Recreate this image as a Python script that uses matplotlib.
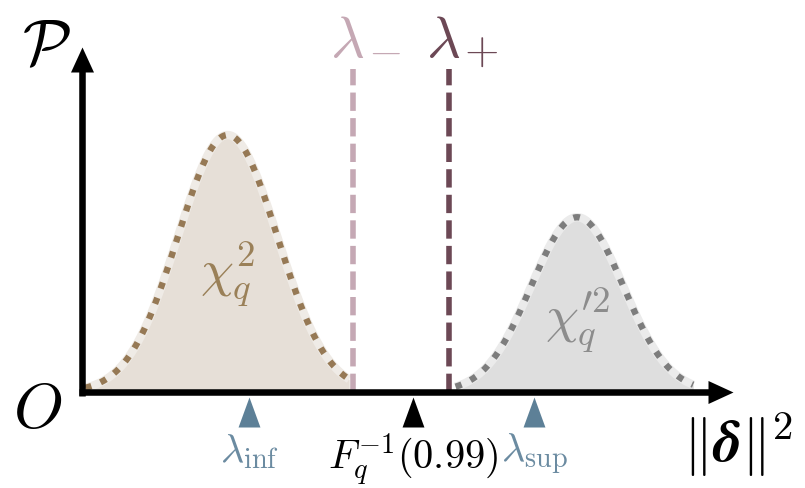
import numpy as np
import matplotlib
matplotlib.use("Agg")
import matplotlib.pyplot as plt

plt.rcParams["mathtext.fontset"] = "cm"

# Two bell-shaped densities: null (chi^2) and alternative (non-central chi'^2)
dist_labels = [r"$\chi^2_q$", r"$\chi^{\prime 2}_q$"]
dist_centers = [1.82, 6.19]
dist_scales = [0.62, 0.575]
dist_peaks = [1.0, 0.68]
dist_support = [(0.04, 3.34), (4.67, 7.64)]
dist_label_pos = [(1.82, 0.415), (6.2, 0.237)]

# Decision thresholds drawn as dashed vertical lines (lambda with a sign subscript)
threshold_signs = ["-", "+"]
threshold_values = [3.39, 4.59]
threshold_top = 1.257

# Ticks marked with triangles below the horizontal axis
mark_labels = [r"$\lambda_{\mathrm{inf}}$", r"$F_q^{-1}(0.99)$", r"$\lambda_{\mathrm{sup}}$"]
mark_values = [2.09, 4.14, 5.65]
mark_baselines = [462, 470, 462]

line_colors = ["#967955", "#7d7d7d"]
fill_colors = ["#e6dfd7", "#dedede"]
halo_colors = ["#efebe6", "#ebebeb"]
text_colors = ["#9a8058", "#8c8c8c"]
threshold_colors = ["#c5a8b4", "#6c4855"]
mark_colors = ["#5d8097", "#000000", "#5d8097"]
mark_text_colors = ["#6b8ba1", "#000000", "#6b8ba1"]
mark_sizes = [29, 29, 29]

PX_X, PX_Y = 80.0, 257.0
fig = plt.figure(figsize=(8.05, 4.89), dpi=100)
ax = fig.add_axes([0, 0, 1, 1])
ax.set_xlim(-82 / PX_X, (805 - 82) / PX_X)
ax.set_ylim(-(489 - 393) / PX_Y, 393 / PX_Y)
ax.axis("off")

# densities
for i in range(2):
    lo, hi = dist_support[i]
    x = np.linspace(lo, hi, 400)
    y = dist_peaks[i] * np.exp(-0.5 * ((x - dist_centers[i]) / dist_scales[i]) ** 2)
    ax.fill_between(x, 0, y, color=fill_colors[i], lw=0, zorder=1)
    ax.plot(x, y, color=halo_colors[i], lw=6.0, solid_capstyle="butt", zorder=2)
    ax.plot(x, y, color=line_colors[i], lw=4.6, linestyle=(0, (1, 1.55)),
            dash_capstyle="butt", zorder=3)
    ax.text(dist_label_pos[i][0], dist_label_pos[i][1], dist_labels[i],
            color=text_colors[i], fontsize=38, ha="center", va="baseline", zorder=4)

# thresholds: lambda symbol plus a subscript sign placed beside it
for sign, val, col in zip(threshold_signs, threshold_values, threshold_colors):
    ax.plot([val, val], [0, threshold_top], color=col, lw=4.0,
            linestyle=(0, (3.3, 1.3)), dash_capstyle="butt", zorder=3)
    ax.annotate(r"$\lambda$", xy=(val, threshold_top), xytext=(-16.5, 9.5),
                textcoords="offset points", color=col, fontsize=42,
                ha="left", va="baseline")
    ax.annotate("$" + sign + "$", xy=(val, threshold_top), xytext=(11.0, 4.5),
                textcoords="offset points", color=col, fontsize=32,
                ha="left", va="baseline")

# axes with arrow heads
x_end = (733 - 82) / PX_X
y_end = (393 - 48) / PX_Y
ax.plot([-3.5 / PX_X, x_end - 0.2], [0, 0], color="black", lw=4.7,
        solid_capstyle="butt", zorder=5)
ax.plot([0, 0], [-3.5 / PX_Y, y_end - 0.05], color="black", lw=4.7,
        solid_capstyle="butt", zorder=5)
head_right = [(-2, -0.92), (-2, 0.92), (0, 0)]
head_up = [(-0.92, -2), (0.92, -2), (0, 0)]
ax.plot([x_end], [0], marker=head_right, ms=36, color="black", mew=0, zorder=6)
ax.plot([0], [y_end], marker=head_up, ms=36, color="black", mew=0, zorder=6)

# triangle marks and their labels
tri = [(-0.73, -1), (0.73, -1), (0, 1)]
tri_y = -(413 - 393) / PX_Y
for lab, val, col, tcol, fs, bl in zip(mark_labels, mark_values, mark_colors,
                                       mark_text_colors, mark_sizes, mark_baselines):
    ax.plot([val], [tri_y], marker=tri, ms=21.6, color=col, mew=0, zorder=6)
    ax.text(val, -(bl - 393) / PX_Y, lab, color=tcol,
            fontsize=fs, ha="center", va="baseline")

# axis names and origin
ax.text(-36 / PX_X, (393 - 46) / PX_Y, r"$\mathcal{P}$", fontsize=46,
        ha="center", va="center")
ax.text(-44 / PX_X, -(410 - 393) / PX_Y, r"$O$", fontsize=46,
        ha="center", va="center")
ax.text((683 - 82) / PX_X, -(462 - 393) / PX_Y,
        r"$\Vert\boldsymbol{\delta}\Vert^2$", fontsize=42,
        ha="left", va="baseline")

fig.savefig("out.png", dpi=100)
